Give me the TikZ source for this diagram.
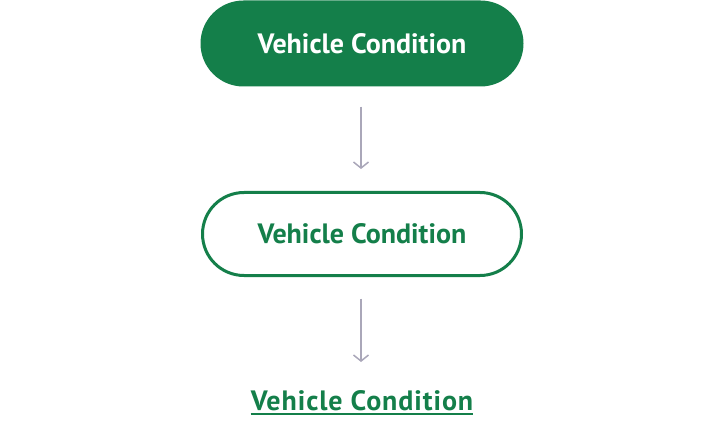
\documentclass[tikz,border=0pt]{standalone}
\usepackage{fontspec}
\setmainfont{PT Sans}
\usetikzlibrary{arrows.meta}
\definecolor{brand}{RGB}{20,127,74}
\definecolor{arrowgray}{RGB}{170,167,185}
\tikzset{
  pillfilled/.style={rectangle, rounded corners=43pt, minimum width=323pt, minimum height=86pt, inner sep=0pt, fill=brand, text=white, font=\fontsize{28}{30}\bfseries\selectfont},
  pilloutline/.style={rectangle, rounded corners=41.5pt, minimum width=319pt, minimum height=83pt, inner sep=0pt, draw=brand, line width=3pt, fill=white, text=brand, font=\fontsize{28}{30}\bfseries\selectfont},
  linktext/.style={inner sep=0pt, text=brand, font=\fontsize{28}{30}\bfseries\selectfont\addfontfeature{LetterSpace=3.3}},
  flow/.style={draw=arrowgray, line width=1.5pt, -{Straight Barb[length=6pt,width=15pt]}},
}
\begin{document}
\begin{tikzpicture}[x=1pt,y=-1pt]
\useasboundingbox (0,0) rectangle (725,422);
\node[pillfilled] (p1) at (362,43.5) {Vehicle Condition};
\node[pilloutline] (p2) at (362,234) {Vehicle Condition};
\node[linktext, anchor=base] (t) at (362,410) {Vehicle Condition};
\coordinate (a2end) at (361,362);
\draw[flow, shorten <=20pt, shorten >=22pt] (p1.south -| a2end) -- (p2.north -| a2end);
\draw[flow, shorten <=21.5pt] (p2.south -| a2end) -- (a2end);
\draw[brand, line width=1.5pt] ([yshift=-4pt]t.base west) -- ([yshift=-4pt]t.base east);
\end{tikzpicture}
\end{document}
